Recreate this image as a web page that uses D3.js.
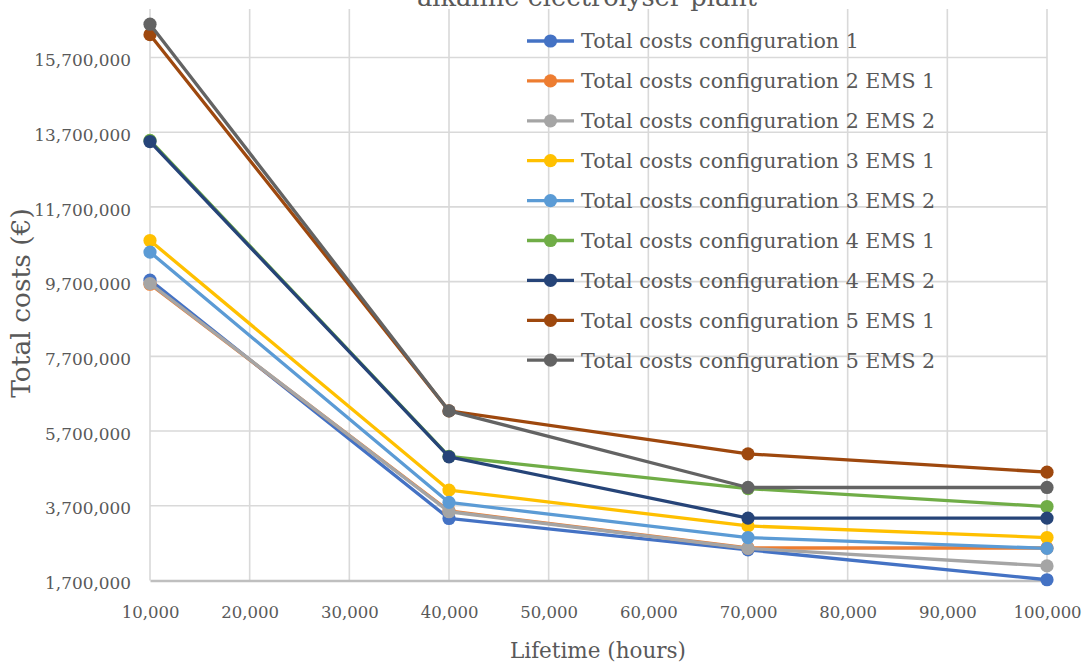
<!DOCTYPE html>
<html>
<head>
<meta charset="utf-8">
<script src="https://cdn.jsdelivr.net/npm/d3@7"></script>
<style>
  html, body { margin: 0; padding: 0; background: #ffffff; }
  svg { display: block; }
  text { font-family: "DejaVu Serif", serif; fill: #595959; }
</style>
</head>
<body>
<svg id="chart" width="1088" height="666"></svg>
<script>
// Lifetime of the electrolyser stacks (hours)
const lifetimes = [10000, 40000, 70000, 100000];

// Total costs (€) per configuration / energy management strategy
const config1     = [9740000, 3360000, 2520000, 1720000];
const config2Ems1 = [9630000, 3560000, 2570000, 2570000];
const config2Ems2 = [9650000, 3540000, 2560000, 2090000];
const config3Ems1 = [10800000, 4120000, 3160000, 2850000];
const config3Ems2 = [10490000, 3790000, 2850000, 2560000];
const config4Ems1 = [13480000, 5020000, 4160000, 3680000];
const config4Ems2 = [13450000, 5010000, 3370000, 3370000];
const config5Ems1 = [16310000, 6240000, 5090000, 4600000];
const config5Ems2 = [16590000, 6240000, 4190000, 4190000];

const seriesNames = [
  "Total costs configuration 1",
  "Total costs configuration 2 EMS 1",
  "Total costs configuration 2 EMS 2",
  "Total costs configuration 3 EMS 1",
  "Total costs configuration 3 EMS 2",
  "Total costs configuration 4 EMS 1",
  "Total costs configuration 4 EMS 2",
  "Total costs configuration 5 EMS 1",
  "Total costs configuration 5 EMS 2"
];
const seriesValues = [config1, config2Ems1, config2Ems2, config3Ems1, config3Ems2,
                      config4Ems1, config4Ems2, config5Ems1, config5Ems2];
const seriesColors = ["#4472C4", "#ED7D31", "#A5A5A5", "#FFC000", "#5B9BD5",
                      "#70AD47", "#264478", "#9E480E", "#636363"];

const xTicks = [10000, 20000, 30000, 40000, 50000, 60000, 70000, 80000, 90000, 100000];
const yTicks = [1700000, 3700000, 5700000, 7700000, 9700000, 11700000, 13700000, 15700000];

const titleText = "alkaline electrolyser plant";
const xTitle = "Lifetime (hours)";
const yTitle = "Total costs (€)";

const svg = d3.select("#chart");
const fmt = d3.format(",");

const x = d3.scaleLinear().domain([10000, 100000]).range([150, 1047]);
const y = d3.scaleLinear().domain([1700000, 17000000]).range([580.5, 8.9]);

// Gridlines
const grid = svg.append("g");
grid.selectAll("line.h").data(yTicks.slice(1)).join("line")
  .attr("x1", x.range()[0]).attr("x2", x.range()[1])
  .attr("y1", d => y(d)).attr("y2", d => y(d))
  .attr("stroke", "#d9d9d9").attr("stroke-width", 1.6);
grid.selectAll("line.v").data(xTicks).join("line")
  .attr("x1", d => x(d)).attr("x2", d => x(d))
  .attr("y1", y.range()[1]).attr("y2", y.range()[0])
  .attr("stroke", "#d9d9d9").attr("stroke-width", 1.6);

// Horizontal axis (at the lowest value) with tick labels
const xAxis = svg.append("g")
  .attr("transform", `translate(0,${y(1700000)})`)
  .call(d3.axisBottom(x).tickValues(xTicks).tickFormat(fmt).tickSize(0).tickPadding(26));
xAxis.select(".domain").attr("stroke", "#bfbfbf").attr("stroke-width", 2.4);
xAxis.selectAll("text").attr("font-size", 16.5).attr("font-family", "DejaVu Serif").attr("fill", "#595959");

// Vertical axis tick labels
const yAxis = svg.append("g")
  .attr("transform", `translate(${x(10000)},0)`)
  .call(d3.axisLeft(y).tickValues(yTicks).tickFormat(fmt).tickSize(0).tickPadding(19));
yAxis.select(".domain").remove();
yAxis.selectAll("text").attr("font-size", 16.9).attr("font-family", "DejaVu Serif")
  .attr("fill", "#595959").attr("dy", "0.48em");

// Series lines and markers
const line = d3.line().x((d, i) => x(lifetimes[i])).y(d => y(d));
const series = svg.append("g");
seriesValues.forEach((vals, k) => {
  const g = series.append("g");
  g.append("path").datum(vals)
    .attr("d", line).attr("fill", "none")
    .attr("stroke", seriesColors[k]).attr("stroke-width", 3.3)
    .attr("stroke-linejoin", "round");
  g.selectAll("circle").data(vals).join("circle")
    .attr("cx", (d, i) => x(lifetimes[i])).attr("cy", d => y(d))
    .attr("r", 6.6).attr("fill", seriesColors[k]);
});

// Legend
const legend = svg.append("g");
const legendRows = legend.selectAll("g").data(seriesNames).join("g")
  .attr("transform", (d, i) => `translate(527,${41 + i * 39.9})`);
legendRows.append("line")
  .attr("x1", 0).attr("x2", 47).attr("y1", 0).attr("y2", 0)
  .attr("stroke", (d, i) => seriesColors[i]).attr("stroke-width", 3.3);
legendRows.append("circle")
  .attr("cx", 23.5).attr("cy", 0).attr("r", 6.6)
  .attr("fill", (d, i) => seriesColors[i]);
legendRows.append("text")
  .attr("x", 54).attr("y", 0).attr("dy", "0.36em")
  .attr("font-size", 20.6)
  .text(d => d);

// Chart title (its lower line sits at the top edge)
svg.append("text")
  .attr("x", 587).attr("y", 6)
  .attr("text-anchor", "middle")
  .attr("font-size", 25.7)
  .text(titleText);

// Axis titles
svg.append("text")
  .attr("x", 598).attr("y", 658)
  .attr("text-anchor", "middle")
  .attr("font-size", 21.5)
  .text(xTitle);

svg.append("text")
  .attr("transform", "translate(30,303) rotate(-90)")
  .attr("text-anchor", "middle")
  .attr("font-size", 26.5)
  .text(yTitle);
</script>
</body>
</html>
